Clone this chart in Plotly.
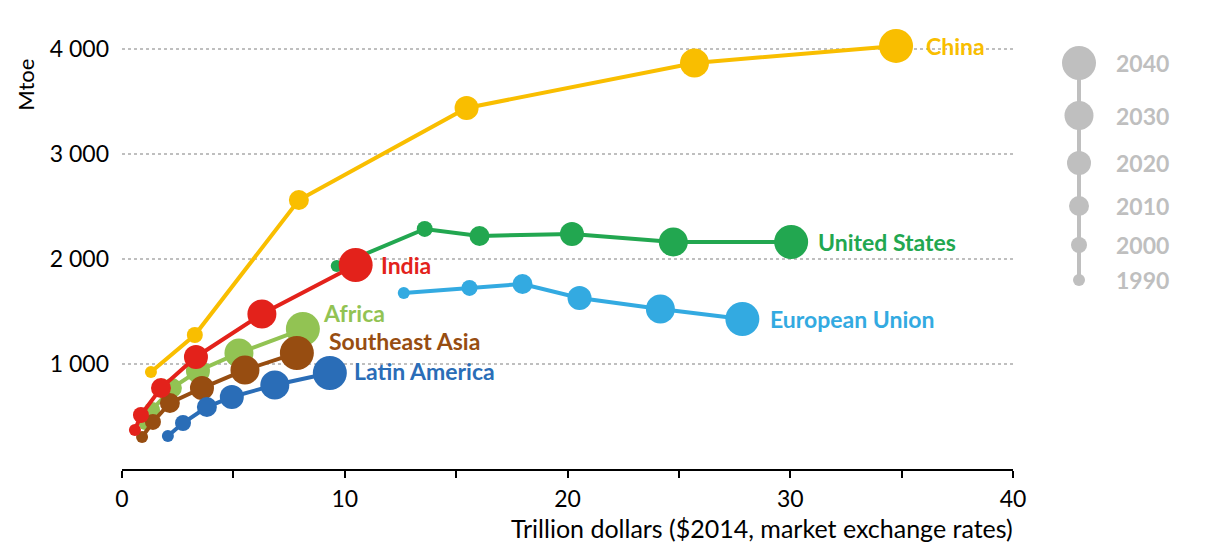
import plotly.graph_objects as go

years = [1990, 2000, 2010, 2020, 2030, 2040]
marker_sizes = [12, 16, 20, 24, 29, 34]

regions = ["China", "United States", "European Union", "Africa", "Southeast Asia", "Latin America", "India"]

gdp = {
    "China":          [1.3, 3.27, 7.94, 15.47, 25.7, 34.75],
    "United States":  [9.64, 13.59, 16.05, 20.2, 24.75, 30.04],
    "European Union": [12.65, 15.6, 17.98, 20.54, 24.17, 27.85],
    "Africa":         [1.03, 1.35, 2.24, 3.41, 5.25, 8.12],
    "Southeast Asia": [0.90, 1.39, 2.15, 3.59, 5.52, 7.85],
    "Latin America":  [2.06, 2.74, 3.81, 4.93, 6.86, 9.33],
    "India":          [0.58, 0.85, 1.75, 3.32, 6.28, 10.49],
}
energy = {
    "China":          [924, 1276, 2562, 3438, 3867, 4029],
    "United States":  [1933, 2286, 2219, 2238, 2162, 2162],
    "European Union": [1676, 1724, 1762, 1629, 1524, 1429],
    "Africa":         [429, 562, 771, 933, 1105, 1333],
    "Southeast Asia": [305, 448, 629, 771, 943, 1105],
    "Latin America":  [314, 438, 590, 686, 800, 914],
    "India":          [371, 514, 771, 1067, 1476, 1943],
}
colors = {
    "China": "#F9BE00",
    "United States": "#22A750",
    "European Union": "#33AAE1",
    "Africa": "#92C353",
    "Southeast Asia": "#974D11",
    "Latin America": "#2A6DB7",
    "India": "#E3221B",
}
# label offsets (px) relative to last point
label_shift = {
    "China": (28, 0),
    "United States": (25, 0),
    "European Union": (26, 0),
    "Africa": (18, 16),
    "Southeast Asia": (30, 12),
    "Latin America": (22, 2),
    "India": (23, 0),
}

y_ticks = [1000, 2000, 3000, 4000]
y_ticktext = ["1 000", "2 000", "3 000", "4 000"]
x_ticks = [0, 5, 10, 15, 20, 25, 30, 35, 40]
x_ticktext = ["0", "", "10", "", "20", "", "30", "", "40"]

FONT = "Lato, Calibri, Carlito, sans-serif"
FS = 23

fig = go.Figure()
annotations = []
for r in regions:
    fig.add_trace(go.Scatter(
        x=gdp[r], y=energy[r], mode="lines+markers",
        line=dict(color=colors[r], width=4),
        marker=dict(size=marker_sizes, color=colors[r], line=dict(width=0), opacity=1),
        showlegend=False, hoverinfo="skip", xaxis="x", yaxis="y",
    ))
    dx, dy = label_shift[r]
    annotations.append(dict(
        x=gdp[r][-1], y=energy[r][-1], xref="x", yref="y",
        text="<b>%s</b>" % r, showarrow=False, xanchor="left", yanchor="middle",
        xshift=dx, yshift=dy, font=dict(family=FONT, size=FS, color=colors[r]),
    ))

# size key (legend) drawn on its own small axes (units: px above plot bottom)
gap = 21
leg_y = [189]
for i in range(1, len(years)):
    leg_y.append(leg_y[-1] + marker_sizes[i - 1] / 2 + marker_sizes[i] / 2 + gap)
leg_x = [0] * len(years)
fig.add_trace(go.Scatter(
    x=leg_x, y=leg_y, mode="lines+markers",
    line=dict(color="#BFBFBF", width=4),
    marker=dict(size=marker_sizes, color="#BFBFBF", line=dict(width=0), opacity=1),
    showlegend=False, hoverinfo="skip", xaxis="x2", yaxis="y2",
))
for yr, yy in zip(years, leg_y):
    annotations.append(dict(
        x=0, y=yy, xref="x2", yref="y2", text="<b>%d</b>" % yr, showarrow=False,
        xanchor="left", yanchor="middle", xshift=35,
        font=dict(family=FONT, size=FS, color="#BFBFBF"),
    ))

# axis titles
annotations.append(dict(
    x=40, y=0, xref="x", yref="paper", text="Trillion dollars ($2014, market exchange rates)",
    showarrow=False, xanchor="right", yanchor="top", yshift=-42, xshift=2,
    font=dict(family=FONT, size=25, color="black"),
))
annotations.append(dict(
    x=0, y=3660, xref="paper", yref="y", text="Mtoe", textangle=-90,
    showarrow=False, xanchor="center", yanchor="middle", xshift=-96,
    font=dict(family=FONT, size=22, color="black"),
))

# page body has an 8px margin: the figure is placed at (8, 8)
W, H = 1206, 541
ml, mr, mt, mb = 114, 20, 0, 80
pw = W - ml - mr
ph = H - mt - mb
fig.update_layout(
    width=W, height=H,
    margin=dict(l=ml, r=mr, t=mt, b=mb),
    plot_bgcolor="white", paper_bgcolor="white",
    font=dict(family=FONT, size=FS, color="black"),
    annotations=annotations,
    xaxis=dict(
        domain=[0, 891 / pw], range=[0, 40], tickvals=x_ticks, ticktext=x_ticktext,
        showgrid=False, zeroline=False, showline=True, linecolor="black", linewidth=1.5,
        ticks="outside", ticklen=7, tickwidth=1.5, tickcolor="black", ticklabelstandoff=2,
        tickfont=dict(family=FONT, size=FS, color="black"),
    ),
    yaxis=dict(
        range=[0, 4390], tickvals=y_ticks, ticktext=y_ticktext,
        showgrid=True, gridcolor="#BFBFBF", gridwidth=2, griddash="dot",
        zeroline=False, showline=False, ticks="", ticklabelstandoff=12,
        tickfont=dict(family=FONT, size=FS, color="black"),
    ),
    xaxis2=dict(domain=[(1071 - ml) / pw - 0.02, (1071 - ml) / pw + 0.02], range=[-1, 1],
                visible=False, anchor="y2"),
    yaxis2=dict(domain=[0, 1], range=[0, ph], visible=False, anchor="x2"),
)

fig.write_html("out.html")
